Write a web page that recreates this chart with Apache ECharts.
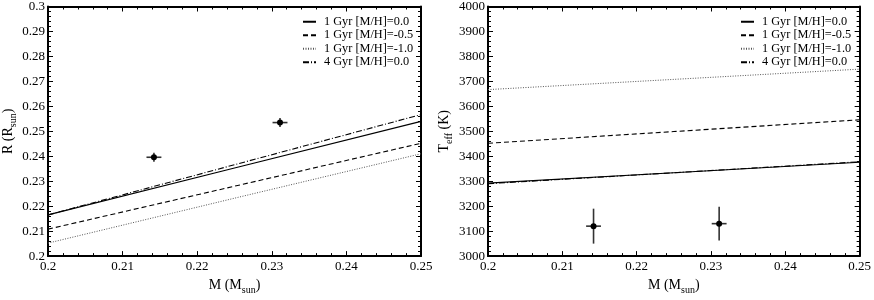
<!DOCTYPE html>
<html><head><meta charset="utf-8">
<script src="https://cdn.jsdelivr.net/npm/echarts@6/dist/echarts.min.js"></script>
<style>html,body{margin:0;padding:0;background:#fff}#c{width:874px;height:300px}</style>
</head><body><div id="c"></div>
<script>
// ---- data ----
const seriesNames = ['1 Gyr [M/H]=0.0', '1 Gyr [M/H]=-0.5', '1 Gyr [M/H]=-1.0', '4 Gyr [M/H]=0.0'];
const modelMass = [0.2, 0.225, 0.25];
// Left: radius (R_sun)
const radius_1Gyr_0p0 = [0.2165, 0.2353, 0.2540];
const radius_1Gyr_m0p5 = [0.2108, 0.2280, 0.2452];
const radius_1Gyr_m1p0 = [0.2052, 0.2232, 0.2410];
const radius_4Gyr_0p0 = [0.2165, 0.2366, 0.2567];
// Right: Teff (K)
const teff_1Gyr_0p0 = [3292, 3334, 3376];
const teff_1Gyr_m0p5 = [3452, 3499, 3546];
const teff_1Gyr_m1p0 = [3667, 3708, 3749];
const teff_4Gyr_0p0 = [3290, 3334, 3378];
// Observed stars
const obsMass = [0.2142, 0.2311];
const obsMassErr = [0.001, 0.001];
const obsRadius = [0.2396, 0.2535];
const obsRadiusErr = [0.0018, 0.0018];
const obsTeff = [3120, 3130];
const obsTeffErr = [70, 68];

const xTicks = [0.2, 0.21, 0.22, 0.23, 0.24, 0.25];

// ---- build ----
const FONT = 'Liberation Serif';
const styles = [
  {type: 'solid', width: 1.2, color: '#000'},
  {type: [5, 3], width: 1.1, color: '#000'},
  {type: [1, 1.5], width: 1, color: '#555'},
  {type: [6, 2, 1, 2], width: 1.1, color: '#000'}
];
function pairs(xs, ys) { return xs.map((x, i) => [x, ys[i]]); }
const fmt2 = v => String(+v.toFixed(2));

function axisCommon(extra) {
  return Object.assign({
    axisLine: {show: true, onZero: false, lineStyle: {color: '#000', width: 2}},
    axisTick: {show: true, inside: true, length: 5, lineStyle: {color: '#000', width: 1}},
    minorTick: {show: true, splitNumber: 5, length: 3, lineStyle: {color: '#000', width: 1}},
    splitLine: {show: false},
    axisLabel: {show: true, color: '#000', fontFamily: FONT, fontSize: 13, margin: 3},
    nameTextStyle: {color: '#000', fontFamily: FONT, fontSize: 14,
      rich: {a: {fontFamily: FONT, fontSize: 14, color: '#000'}, s: {fontFamily: FONT, fontSize: 10, color: '#000', verticalAlign: 'bottom', padding: [10, 0, 0, 0]}}}
  }, extra);
}
function mirror(extra) {
  const a = axisCommon(extra);
  a.axisLabel = {show: false};
  a.name = '';
  return a;
}

function errRender(params, api) {
  const x = api.value(0), y = api.value(1), ex = api.value(2), ey = api.value(3);
  const c = api.coord([x, y]);
  const l = api.coord([x - ex, y]), r = api.coord([x + ex, y]);
  const t = api.coord([x, y + ey]), b = api.coord([x, y - ey]);
  const st = {stroke: '#333', lineWidth: 1.6};
  return {type: 'group', children: [
    {type: 'line', shape: {x1: l[0], y1: l[1], x2: r[0], y2: r[1]}, style: st},
    {type: 'line', shape: {x1: t[0], y1: t[1], x2: b[0], y2: b[1]}, style: st},
    {type: 'circle', shape: {cx: c[0], cy: c[1], r: 3}, style: {fill: '#000'}}
  ]};
}

const leftY = [radius_1Gyr_0p0, radius_1Gyr_m0p5, radius_1Gyr_m1p0, radius_4Gyr_0p0];
const rightY = [teff_1Gyr_0p0, teff_1Gyr_m0p5, teff_1Gyr_m1p0, teff_4Gyr_0p0];

const series = [];
[leftY, rightY].forEach((set, g) => {
  set.forEach((ys, i) => {
    series.push({
      type: 'line', name: seriesNames[i], xAxisIndex: g * 2, yAxisIndex: g * 2,
      data: pairs(modelMass, ys), symbol: 'none', color: styles[i].color,
      itemStyle: {color: styles[i].color}, lineStyle: styles[i], silent: true, animation: false
    });
  });
});
series.push({type: 'custom', xAxisIndex: 0, yAxisIndex: 0, renderItem: errRender, animation: false,
  data: obsMass.map((m, i) => [m, obsRadius[i], obsMassErr[i], obsRadiusErr[i]]), encode: {x: 0, y: 1}});
series.push({type: 'custom', xAxisIndex: 2, yAxisIndex: 2, renderItem: errRender, animation: false,
  data: obsMass.map((m, i) => [m, obsTeff[i], obsMassErr[i], obsTeffErr[i]]), encode: {x: 0, y: 1}});

const xName = '{a|M (M}{s|sun}{a|)}';
function xAxes(gi) {
  return [
    axisCommon({type: 'value', gridIndex: gi, position: 'bottom', min: xTicks[0], max: xTicks[xTicks.length - 1], interval: 0.01,
      name: xName, nameLocation: 'middle', nameGap: 17,
      axisLabel: {show: true, color: '#000', fontFamily: FONT, fontSize: 13, margin: 4, formatter: fmt2}}),
    mirror({type: 'value', gridIndex: gi, position: 'top', min: xTicks[0], max: xTicks[xTicks.length - 1], interval: 0.01})
  ];
}

function legendAt(left, fs) {
  return {data: seriesNames, orient: 'vertical', left: left, top: 10, itemWidth: 13, itemHeight: 8, itemGap: 0,
    selectedMode: false, itemStyle: {opacity: 0},
    textStyle: {fontFamily: FONT, fontSize: fs, color: '#000', lineHeight: 13.5, padding: [0, 0, 0, 3]}};
}

const option = {
  animation: false,
  backgroundColor: '#fff',
  grid: [
    {left: 45, right: 453, top: 5, bottom: 33},
    {left: 488, right: 13, top: 5, bottom: 33}
  ],
  xAxis: [...xAxes(0), ...xAxes(1)],
  yAxis: [
    axisCommon({type: 'value', gridIndex: 0, position: 'left', min: 0.2, max: 0.3, interval: 0.01,
      name: '{a|R (R}{s|sun}{a|)}', nameLocation: 'middle', nameGap: 30,
      axisLabel: {show: true, color: '#000', fontFamily: FONT, fontSize: 13, margin: 3, formatter: fmt2}}),
    mirror({type: 'value', gridIndex: 0, position: 'right', min: 0.2, max: 0.3, interval: 0.01}),
    axisCommon({type: 'value', gridIndex: 1, position: 'left', min: 3000, max: 4000, interval: 100,
      name: '{a|T}{s|eff}{a| (K)}', nameLocation: 'middle', nameGap: 34,
      axisLabel: {show: true, color: '#000', fontFamily: FONT, fontSize: 13, margin: 3, formatter: v => String(Math.round(v))}}),
    mirror({type: 'value', gridIndex: 1, position: 'right', min: 3000, max: 4000, interval: 100})
  ],
  legend: [legendAt(297, 12.3), legendAt(735, 12.3)],
  series: series
};
const chart = echarts.init(document.getElementById('c'), null, {renderer: 'canvas'});
chart.setOption(option);
</script></body></html>
